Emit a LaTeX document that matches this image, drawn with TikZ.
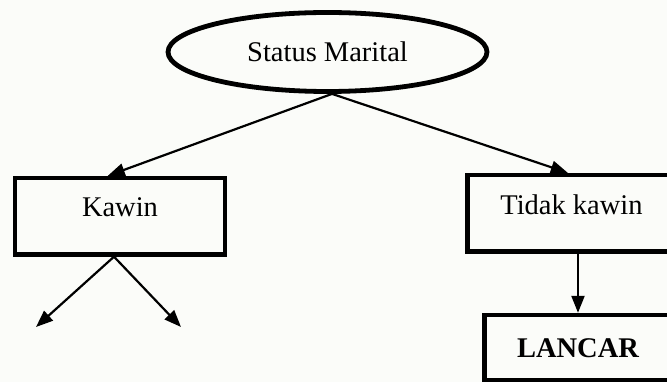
\documentclass[tikz,border=0pt]{standalone}
\usepackage{fontspec}
\setmainfont{Liberation Serif}
\usetikzlibrary{shapes.geometric,arrows.meta}

\definecolor{paper}{RGB}{251,252,249}

\tikzset{
  label font/.style={font=\fontsize{28.5}{34}\selectfont},
  topnode/.style={ellipse, draw, line width=4.8pt, inner sep=0pt,
    minimum width=319pt, minimum height=79pt, label font},
  box/.style={rectangle, draw, line width=4.4pt, inner sep=0pt, label font},
  link/.style={line width=2.2pt, -{Triangle[length=17pt,width=13pt]}}
}

\begin{document}
\begin{tikzpicture}[x=1pt,y=-1pt]
  % page area
  \fill[paper] (0,0) rectangle (667,382);
  \useasboundingbox (0,0) rectangle (667,382);
  \clip (0,0) rectangle (667,382);

  % root attribute
  \node[topnode] (sm) at (327.5,52) {Status Marital};

  % branches
  \node[box, anchor=base, minimum width=210pt,
        text height=39pt, text depth=37.5pt] (kawin) at (120,217) {Kawin};
  \node[box, anchor=base, minimum width=208pt,
        text height=40pt, text depth=36.5pt] (tidak) at (571.5,215) {Tidak kawin};

  % leaf
  \node[box, anchor=base, minimum width=187pt,
        text height=42pt, text depth=23.5pt,
        font=\fontsize{28.5}{34}\selectfont\bfseries] (lancar) at (578,357) {LANCAR};

  % open ends below Kawin
  \coordinate (kl) at (36,327);
  \coordinate (kr) at (181,327);

  % connectors
  \draw[link] ([xshift=4.5pt]sm.south) -- ([xshift=95pt]kawin.north west);
  \draw[link] ([xshift=4.5pt]sm.south) -- ([xshift=102.5pt]tidak.north west);
  \draw[link] ([xshift=-6pt]kawin.south) -- (kl);
  \draw[link] ([xshift=-6pt]kawin.south) -- (kr);
  \draw[link] (lancar.north |- tidak.south) -- (lancar.north);
\end{tikzpicture}
\end{document}
